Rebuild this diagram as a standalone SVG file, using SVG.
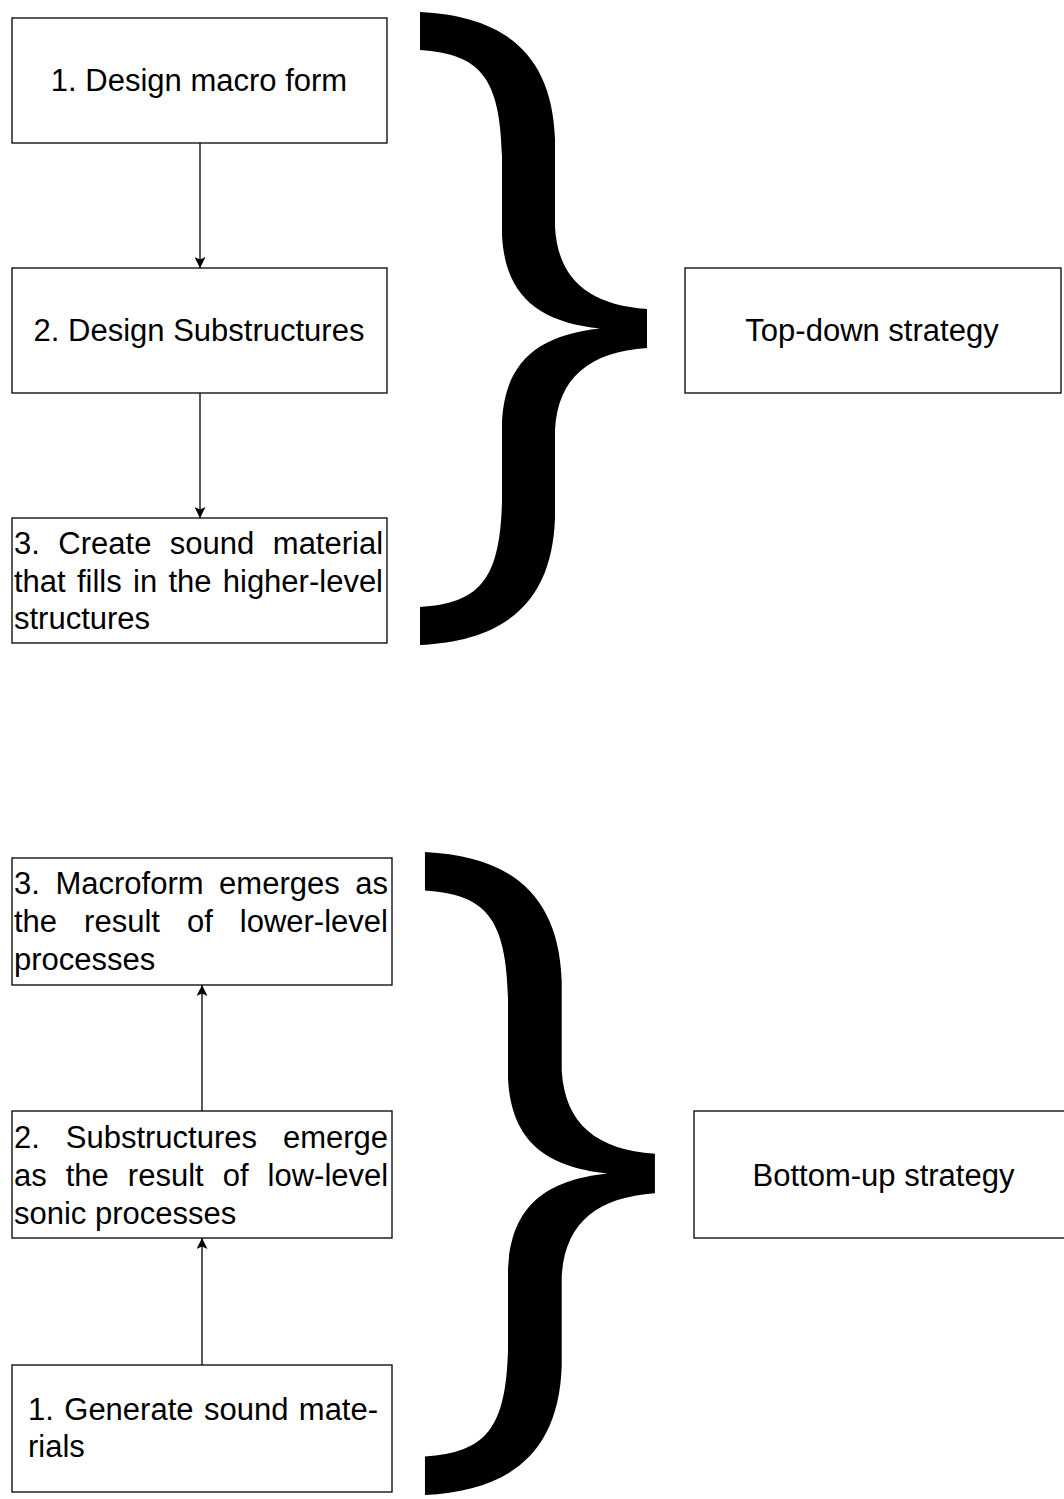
<svg xmlns="http://www.w3.org/2000/svg" width="1064" height="1499" viewBox="0 0 1064 1499">
<style>
.box{fill:#fff;stroke:#000;stroke-width:1.3}
.t{font-family:"Liberation Sans",Arial,Helvetica,sans-serif;font-size:31px;fill:#000}
.c{text-anchor:middle}
.edge{stroke:#000;stroke-width:1.3;fill:none}
.brace{fill:#000;stroke:none}
</style>
<defs>
<marker id="ah" viewBox="0 0 11 11" refX="11" refY="5.5" markerWidth="11" markerHeight="11" markerUnits="userSpaceOnUse" orient="auto">
<path d="M0,0 L11,5.5 L0,11 L2.5,5.5 Z" fill="#000"/>
</marker>
<path id="br" d="M420 12 C500 16 552 50 555 139 L555 227 C558 280 590 305 647 309 L647 348 C590 352 558 377 555 430 L555 518 C552 607 500 641 420 645 L420 607 C480 603 500 580 502 501 L502 422 C505 360 540 335 600 328.5 C540 322 505 297 502 235 L502 156 C500 77 480 54 420 50 Z"/>
</defs>
<rect width="1064" height="1499" fill="#fff"/>
<g id="connectors">
<line class="edge" x1="200" y1="143" x2="200" y2="268" marker-end="url(#ah)"/>
<line class="edge" x1="200" y1="393" x2="200" y2="518" marker-end="url(#ah)"/>
<line class="edge" x1="202" y1="1111" x2="202" y2="985" marker-end="url(#ah)"/>
<line class="edge" x1="202" y1="1365" x2="202" y2="1238" marker-end="url(#ah)"/>
</g>
<g id="brace-top"><use href="#br" class="brace"/></g>
<g id="brace-bottom"><use href="#br" class="brace" transform="matrix(1.013,0,0,1.016,-0.5,839.8)"/></g>
<g id="td1">
<rect class="box" x="12" y="18" width="375" height="125"/>
<text class="t c" x="199" y="91">1. Design macro form</text>
</g>
<g id="td2">
<rect class="box" x="12" y="268" width="375" height="125"/>
<text class="t c" x="199" y="341">2. Design Substructures</text>
</g>
<g id="td3">
<rect class="box" x="12" y="518" width="375" height="125"/>
<text class="t" x="14" y="554" word-spacing="9.87">3. Create sound material</text>
<text class="t" x="14" y="591.5" word-spacing="2.65">that fills in the higher-level</text>
<text class="t" x="14" y="629">structures</text>
</g>
<g id="topdown">
<rect class="box" x="685" y="268" width="376" height="125"/>
<text class="t c" x="872" y="341">Top-down strategy</text>
</g>
<g id="bu3">
<rect class="box" x="12" y="858" width="380" height="127"/>
<text class="t" x="14" y="894" word-spacing="6.94">3. Macroform emerges as</text>
<text class="t" x="14" y="932" word-spacing="18.4">the result of lower-level</text>
<text class="t" x="14" y="970">processes</text>
</g>
<g id="bu2">
<rect class="box" x="12" y="1111" width="380" height="127"/>
<text class="t" x="14" y="1148" word-spacing="17.3">2. Substructures emerge</text>
<text class="t" x="14" y="1186" word-spacing="10.4">as the result of low-level</text>
<text class="t" x="14" y="1224">sonic processes</text>
</g>
<g id="bu1">
<rect class="box" x="12" y="1365" width="380" height="127"/>
<text class="t" x="28" y="1420" word-spacing="1.8">1. Generate sound mate-</text>
<text class="t" x="28" y="1457">rials</text>
</g>
<g id="bottomup">
<rect class="box" x="694" y="1111" width="379" height="127"/>
<text class="t c" x="883.5" y="1186">Bottom-up strategy</text>
</g>
</svg>
